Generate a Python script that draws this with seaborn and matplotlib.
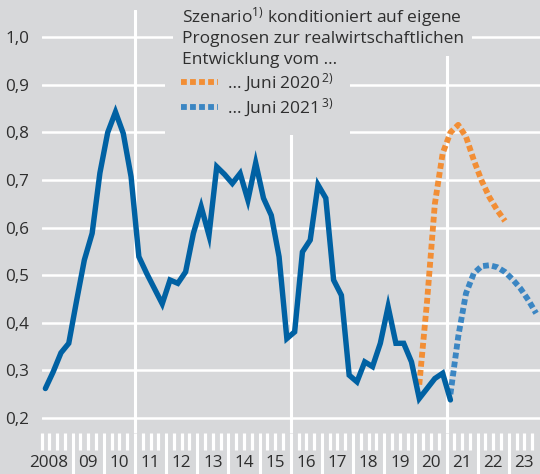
import matplotlib
matplotlib.use("Agg")
import matplotlib.pyplot as plt
from matplotlib.lines import Line2D
import numpy as np
import pandas as pd
import seaborn as sns

BG = "#d7d8da"
TEXT = "#2e2e2e"
BLUE = "#0061a3"
ORANGE = "#f28e35"
LIGHT_BLUE = "#3b86c3"

# quarterly indicator, 2008Q1 .. 2021Q1
hist_start = "2008Q1"
hist_values = [
    0.262, 0.297, 0.337, 0.357, 0.446, 0.532, 0.588, 0.715, 0.800, 0.843,
    0.798, 0.707, 0.539, 0.504, 0.472, 0.440, 0.490, 0.483, 0.507, 0.588,
    0.644, 0.584, 0.728, 0.712, 0.693, 0.714, 0.658, 0.736, 0.662, 0.626,
    0.539, 0.367, 0.381, 0.549, 0.574, 0.690, 0.662, 0.490, 0.458, 0.290,
    0.276, 0.318, 0.308, 0.357, 0.434, 0.357, 0.357, 0.318, 0.241, 0.262,
    0.283, 0.294, 0.238,
]

# scenario conditioned on June 2020 projections, from 2020Q1
jun20_start = "2020Q1"
jun20_values = [0.270, 0.445, 0.650, 0.756, 0.800, 0.816, 0.791, 0.742, 0.699, 0.664, 0.637, 0.614]

# scenario conditioned on June 2021 projections, from 2021Q1
jun21_start = "2021Q1"
jun21_values = [0.250, 0.371, 0.462, 0.504, 0.519, 0.521, 0.517, 0.507, 0.491, 0.472, 0.448, 0.420]

year_labels = ["2008", "09", "10", "11", "12", "13", "14", "15", "16", "17", "18", "19", "20", "21", "22", "23"]
y_ticks = [0.2, 0.3, 0.4, 0.5, 0.6, 0.7, 0.8, 0.9, 1.0]

header_lines = [
    r"Szenario$^{1)}$ konditioniert auf eigene",
    "Prognosen zur realwirtschaftlichen",
    "Entwicklung vom …",
]
legend_labels = [r"… Juni 2020$^{\,2)}$", r"… Juni 2021$^{\,3)}$"]


def quarter_frame(start, values):
    periods = pd.period_range(start, periods=len(values), freq="Q")
    t = periods.year + (periods.quarter - 1) / 4 + 0.125
    return pd.DataFrame({"t": t, "value": values})


hist = quarter_frame(hist_start, hist_values)
jun20 = quarter_frame(jun20_start, jun20_values)
jun21 = quarter_frame(jun21_start, jun21_values)

sns.set_style("white")
plt.rcParams["font.family"] = ["Open Sans", "DejaVu Sans"]
plt.rcParams["mathtext.fontset"] = "custom"
plt.rcParams["mathtext.rm"] = "Open Sans"
plt.rcParams["mathtext.it"] = "Open Sans:italic"
plt.rcParams["mathtext.bf"] = "Open Sans:bold"

fig = plt.figure(figsize=(5.4, 4.74), dpi=100, facecolor=BG)
ax = fig.add_axes([41.5 / 540, 41 / 474, 498.5 / 540, 423 / 474], facecolor=BG)

for y in y_ticks:
    ax.axhline(y, color="white", lw=1.8, zorder=1)
for x in [2011, 2016, 2021]:
    ax.axvline(x, color="white", lw=2.2, zorder=1)

dots = (1.0, 0.55)
sns.lineplot(data=hist, x="t", y="value", color=BLUE, lw=3.9, ax=ax, zorder=4)
sns.lineplot(data=jun20, x="t", y="value", color=ORANGE, lw=4.2, ax=ax, zorder=3)
sns.lineplot(data=jun21, x="t", y="value", color=LIGHT_BLUE, lw=4.2, ax=ax, zorder=3)
ax.lines[-2].set_dashes(dots)
ax.lines[-1].set_dashes(dots)
for ln in ax.lines[-3:]:
    ln.set_solid_joinstyle("miter")
    ln.set_dash_capstyle("butt")

ax.set_xlim(2008, 2024)
ax.set_ylim(0.1685, 1.0574)
for s in ax.spines.values():
    s.set_visible(False)

ax.set_xticks(np.arange(2009, 2024))
ax.set_xticks(np.arange(2008, 2024, 0.25), minor=True)
ax.tick_params(axis="x", which="both", bottom=True, direction="out")
ax.tick_params(axis="x", which="major", length=30, width=2.2, color="white", labelbottom=False)
ax.tick_params(axis="x", which="minor", length=12.3, width=2.3, color="white")
ax.set_yticks(y_ticks)
ax.set_yticklabels([f"{v:.1f}".replace(".", ",") for v in y_ticks])
ax.tick_params(axis="y", length=0, pad=9, labelsize=12.3, labelcolor=TEXT)
ax.set_xlabel("")
ax.set_ylabel("")

trans = ax.get_xaxis_transform()
for i, lab in enumerate(year_labels):
    year = 2008 + i
    if i == 0:
        ax.text(year + 0.86, -0.072, lab, transform=trans, ha="right", va="center",
                fontsize=12.3, color=TEXT, clip_on=False)
    else:
        ax.text(year + 0.5, -0.072, lab, transform=trans, ha="center", va="center",
                fontsize=12.3, color=TEXT, clip_on=False)

# header: gray boxes first, text on top so boxes never hide a neighbouring line
for i, line in enumerate(header_lines):
    pos = (181.5 / 540, 1 - (22.7 + 20.5 * i) / 474)
    fig.text(*pos, line, fontsize=12.5, color=BG, va="baseline", ha="left",
             zorder=4, bbox=dict(facecolor=BG, edgecolor="none", pad=6))
    fig.text(*pos, line, fontsize=12.5, color=TEXT, va="baseline", ha="left", zorder=6)

handles = [
    Line2D([], [], color=ORANGE, lw=4.2, dashes=dots, dash_capstyle="butt"),
    Line2D([], [], color=LIGHT_BLUE, lw=4.2, dashes=dots, dash_capstyle="butt"),
]
leg = fig.legend(handles, legend_labels, loc="upper left",
                 bbox_to_anchor=(165 / 540, 1 - 55 / 474), fontsize=12.5,
                 frameon=True, facecolor=BG, edgecolor="none", framealpha=1,
                 fancybox=False, borderpad=0.95, borderaxespad=0,
                 handlelength=2.1, handletextpad=0.5, labelspacing=0.15)
leg.set_zorder(5)
for t in leg.get_texts():
    t.set_color(TEXT)

fig.savefig("out.png", dpi=100, facecolor=BG)
